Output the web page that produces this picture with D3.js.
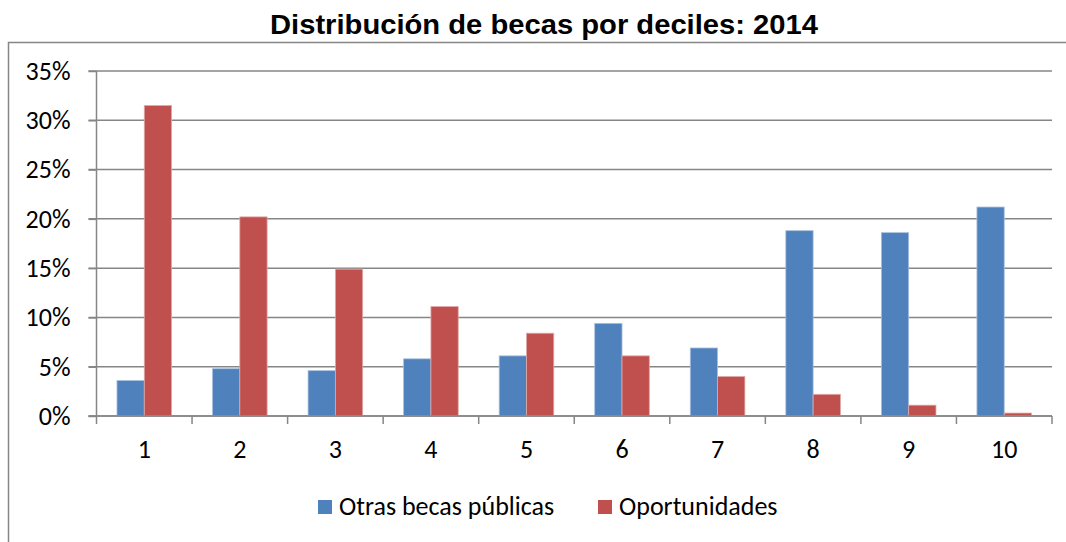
<!DOCTYPE html>
<html>
<head>
<meta charset="utf-8">
<script src="https://cdn.jsdelivr.net/npm/d3@7"></script>
<style>
  body { margin: 0; background: #fff; }
  svg { display: block; }
</style>
</head>
<body>
<svg id="chart" width="1066" height="542"></svg>
<script>
// data
var deciles = ["1", "2", "3", "4", "5", "6", "7", "8", "9", "10"];
var otrasBecas = [3.6, 4.8, 4.6, 5.8, 6.1, 9.4, 6.9, 18.8, 18.6, 21.2];
var oportunidades = [31.5, 20.2, 14.9, 11.1, 8.4, 6.1, 4.0, 2.2, 1.1, 0.3];
var seriesNames = ["Otras becas públicas", "Oportunidades"];
var seriesColors = ["#4F81BD", "#C0504D"];
var yTicks = [0, 5, 10, 15, 20, 25, 30, 35];

var svg = d3.select("#chart");
var labelFont = "Carlito, Calibri, 'Open Sans', sans-serif";
var gridColor = "#868686";

// outer chart border (only left and top visible)
svg.append("rect")
    .attr("x", 8.5).attr("y", 42.5)
    .attr("width", 1100).attr("height", 600)
    .attr("fill", "none")
    .attr("stroke", gridColor)
    .attr("stroke-width", 1.5);

// title
svg.append("text")
    .attr("x", 544).attr("y", 34)
    .attr("text-anchor", "middle")
    .attr("font-family", "'Liberation Sans', Arial, sans-serif")
    .attr("font-weight", "bold")
    .attr("font-size", 27)
    .attr("textLength", 548)
    .attr("lengthAdjust", "spacingAndGlyphs")
    .attr("fill", "#000")
    .text("Distribución de becas por deciles: 2014");

var plotLeft = 96.5, plotRight = 1052, plotTop = 71, plotBottom = 416;

var x = d3.scaleBand().domain(deciles).range([plotLeft, plotRight]);
var y = d3.scaleLinear().domain([0, 35]).range([plotBottom, plotTop]);

// gap width 150% => each bar is 1/(2+1.5) of the band
var barW = x.bandwidth() / 3.5;

// gridlines
svg.append("g")
    .selectAll("line")
    .data(yTicks)
    .join("line")
    .attr("x1", plotLeft - 8).attr("x2", plotRight)
    .attr("y1", d => y(d)).attr("y2", d => y(d))
    .attr("stroke", gridColor)
    .attr("stroke-width", 1.5);

var series = [otrasBecas, oportunidades];
series.forEach(function (vals, si) {
    svg.append("g")
        .selectAll("rect")
        .data(vals)
        .join("rect")
        .attr("x", (d, i) => x(deciles[i]) + x.bandwidth() / 2 - barW + si * barW)
        .attr("y", d => y(d))
        .attr("width", barW)
        .attr("height", d => y(0) - y(d))
        .attr("fill", seriesColors[si])
        .attr("stroke", si === 0 ? "#a7c0de" : "#e0a9a8")
        .attr("stroke-width", 0.8);
});

// y axis
var yAxis = d3.axisLeft(y)
    .tickValues(yTicks)
    .tickFormat(d => d + "%")
    .tickSize(8)
    .tickPadding(18);
var gy = svg.append("g")
    .attr("transform", "translate(" + plotLeft + ",0)")
    .call(yAxis);
gy.select(".domain").attr("stroke", gridColor).attr("stroke-width", 1.5)
    .attr("d", "M0," + plotTop + "V" + plotBottom);
gy.selectAll(".tick line").attr("stroke", gridColor).attr("stroke-width", 1.5);
gy.selectAll(".tick text")
    .attr("font-family", labelFont)
    .attr("font-size", 26)
    .attr("fill", "#000")
    .attr("dy", "0.32em");

// x axis: ticks on category boundaries
var gx = svg.append("g")
    .attr("transform", "translate(0," + plotBottom + ")");
gx.append("line")
    .attr("x1", plotLeft - 8).attr("x2", plotRight)
    .attr("stroke", gridColor).attr("stroke-width", 1.5);
var bounds = deciles.map(d => x(d)).concat([plotRight]);
gx.selectAll("line.tk")
    .data(bounds)
    .join("line")
    .attr("class", "tk")
    .attr("x1", d => d).attr("x2", d => d)
    .attr("y1", 0).attr("y2", 8)
    .attr("stroke", gridColor).attr("stroke-width", 1.5);
gx.selectAll("text")
    .data(deciles)
    .join("text")
    .attr("x", d => x(d) + x.bandwidth() / 2)
    .attr("y", 42)
    .attr("text-anchor", "middle")
    .attr("font-family", labelFont)
    .attr("font-size", 26)
    .attr("fill", "#000")
    .text(d => d);

// legend
var legendX = [318, 598];
var legend = svg.append("g");
seriesNames.forEach(function (name, i) {
    legend.append("rect")
        .attr("x", legendX[i]).attr("y", 500)
        .attr("width", 14).attr("height", 14)
        .attr("fill", seriesColors[i]);
    legend.append("text")
        .attr("x", legendX[i] + 21).attr("y", 515)
        .attr("font-family", labelFont)
        .attr("font-size", 26)
        .attr("fill", "#000")
        .text(name);
});
</script>
</body>
</html>
